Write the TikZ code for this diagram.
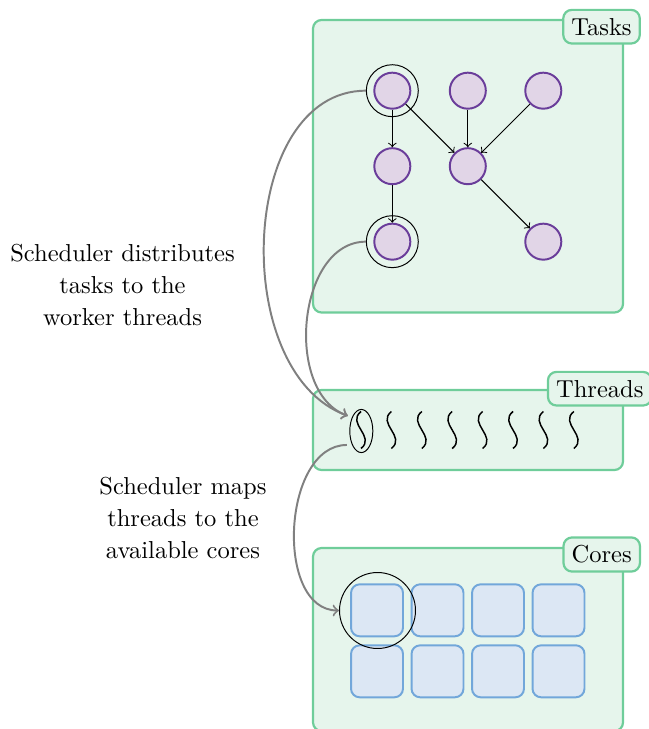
\documentclass[tikz,border=0pt]{standalone}
\usetikzlibrary{positioning,calc,shapes.geometric}
\definecolor{groupfill}{HTML}{E6F5EC}
\definecolor{groupdraw}{HTML}{6FCD9A}
\definecolor{taskfill}{HTML}{E1D5E7}
\definecolor{taskdraw}{HTML}{6A3D9A}
\definecolor{corefill}{HTML}{DCE7F4}
\definecolor{coredraw}{HTML}{72A7DA}
\tikzset{
    group box/.style = {
        draw = groupdraw,
        fill = groupfill,
        line width = 0.9pt,
        rounded corners = 3.5pt,
        },
    group label/.style = {
        draw = groupdraw,
        fill = groupfill,
        line width = 0.9pt,
        rounded corners = 3.5pt,
        },
    task/.style = {
        circle,
        draw = taskdraw,
        fill = taskfill,
        line width = 0.8pt,
        minimum size = 14.7pt,
        inner sep = 0pt,
        },
    picked/.style = {
        circle,
        draw,
        inner sep = 0pt,
        },
    core/.style = {
        draw = coredraw,
        fill = corefill,
        line width = 0.8pt,
        rounded corners = 3.5pt,
        minimum size = 21.2pt,
        inner sep = 0pt,
        },
    dep/.style = {
        ->,
        },
    sched/.style = {
        ->,
        draw = gray,
        line width = 0.8pt,
        },
}

\begin{document}
\begin{tikzpicture}[
                x = 0.408pt,
                y = 0.408pt,
                on grid,
                node distance = 30.8pt,
            ]
            \useasboundingbox (0,0) rectangle (648,-729);

            % groups
            \draw[group box] (313,-20) rectangle (623,-312.5);
            \draw[group box] (313,-390) rectangle (623,-470);
            \draw[group box] (313,-548) rectangle (623,-731);

            % tasks
            \node[task] (t1) at (392.3,-90.7) {};
            \node[task, right=of t1] (t2) {};
            \node[task, right=of t2] (t3) {};
            \node[task, below=of t1] (t4) {};
            \node[task, below=of t2] (t5) {};
            \node[task, below=of t4] (t6) {};
            \node[task, below=of t5, xshift=30.8pt] (t7) {};
            \node[picked, minimum size=21.2pt] (r1) at (t1) {};
            \node[picked, minimum size=21.2pt] (r6) at (t6) {};

            \draw[dep] (t1) -- (t4);
            \draw[dep] (t1) -- (t5);
            \draw[dep] (t2) -- (t5);
            \draw[dep] (t3) -- (t5);
            \draw[dep] (t4) -- (t6);
            \draw[dep] (t5) -- (t7);

            % threads
            \foreach \i in {0,...,7}
                \draw[line width=0.6pt] ({361+30.4*\i},-411.5) .. controls +(-15,-12) and +(15,12) .. ++(0,-37);
            \node[picked, ellipse, minimum width=9.4pt, minimum height=17.6pt] (th) at (361.3,-431) {};

            % cores
            \foreach \i in {0,...,3} {
                \node[core] (ca\i) at ({377+60.5*\i},-610.3) {};
                \node[core] (cb\i) at ({377+60.5*\i},-671.3) {};
            }
            \node[picked, minimum size=31pt] (cr) at (377.5,-610.5) {};

            % labels
            \node[group label] (tasks) at (601.5,-26.7) {Tasks};
            \node[group label] (threads) at (599.8,-388.7) {Threads};
            \node[group label] (cores) at (601.7,-554.5) {Cores};

            % scheduler
            \draw[sched] (r1.west) to[out=180, in=160] ([xshift=-0.6pt, yshift=6.2pt] th.west);
            \draw[sched] (r6.west) to[out=180, in=160] ([xshift=-0.6pt, yshift=6.2pt] th.west);
            \draw[sched] ([xshift=-1pt, yshift=-5.7pt] th.west) to[out=180, in=180] (cr.west);

            \node[align=center] (distnote) at (122.5,-285) {Scheduler distributes\\[1pt] tasks to the\\[1pt] worker threads};
            \node[align=center] (mapnote) at (183,-518) {Scheduler maps\\[1pt] threads to the\\[1pt] available cores};
\end{tikzpicture}
\end{document}
